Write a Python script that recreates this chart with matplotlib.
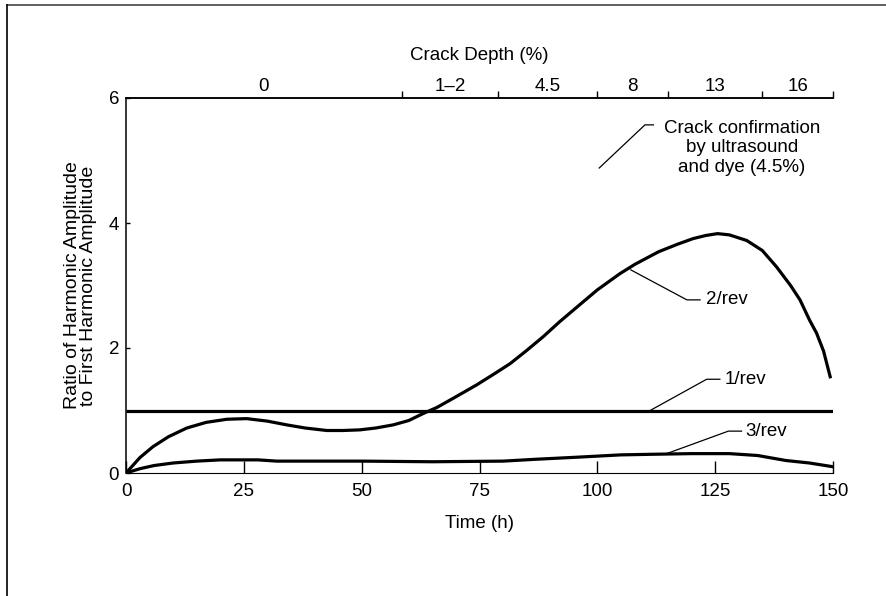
import matplotlib
matplotlib.use("Agg")
import matplotlib.pyplot as plt
from matplotlib.lines import Line2D

plt.rcParams['font.family'] = ['Liberation Sans', 'DejaVu Sans']

# ---- data ----
time_2rev = [0, 3, 5.7, 9, 12.9, 17, 21.4, 25.6, 30, 34.1, 38, 42.6, 46, 49.6, 53, 56.7,
             60, 63, 66, 70, 74.4, 78, 81.5, 85, 88.5, 92, 95.6, 100, 104.8, 108, 113,
             117, 120.3, 123, 125.5, 128, 131.7, 135, 138, 141, 143, 145, 146.5, 148, 149.4]
ratio_2rev = [0.0, 0.25, 0.42, 0.58, 0.72, 0.81, 0.86, 0.87, 0.83, 0.77, 0.72, 0.68, 0.68,
              0.69, 0.72, 0.77, 0.84, 0.95, 1.05, 1.22, 1.41, 1.58, 1.75, 1.96, 2.18, 2.42,
              2.65, 2.93, 3.19, 3.34, 3.54, 3.66, 3.75, 3.80, 3.83, 3.81, 3.72, 3.56, 3.30,
              3.00, 2.77, 2.45, 2.24, 1.95, 1.54]
time_3rev = [0, 3, 6, 10, 15, 20, 28, 32, 50, 65, 80, 87, 95, 100, 105, 112, 120, 128,
             134, 140, 145, 150]
ratio_3rev = [0.0, 0.07, 0.12, 0.16, 0.19, 0.21, 0.21, 0.19, 0.19, 0.18, 0.19, 0.22, 0.25,
              0.27, 0.29, 0.30, 0.31, 0.31, 0.28, 0.20, 0.16, 0.10]
time_1rev = [0, 150]
ratio_1rev = [1.0, 1.0]

x_ticks = [0, 25, 50, 75, 100, 125, 150]
y_ticks = [0, 2, 4, 6]
depth_bounds = [0, 58.5, 79, 100, 115, 135, 150]
depth_labels = ['0', '1\u20132', '4.5', '8', '13', '16']

FS = 13.5

fig = plt.figure(figsize=(8.86, 5.96), dpi=100)
ax = fig.add_axes([126/886, 1-473/596, (833-126)/886, (473-98)/596])

lw = 2.3
ax.plot(time_1rev, ratio_1rev, color='black', lw=lw, solid_capstyle='butt')
ax.plot(time_2rev, ratio_2rev, color='black', lw=lw, solid_joinstyle='round')
ax.plot(time_3rev, ratio_3rev, color='black', lw=lw, solid_joinstyle='round')

ax.set_xlim(0, 150)
ax.set_ylim(0, 6)
ax.spines['right'].set_visible(False)
ax.spines['left'].set_linewidth(1.1)
ax.spines['top'].set_linewidth(1.1)
ax.spines['bottom'].set_linewidth(0.8)

ax.set_xticks(x_ticks)
ax.set_yticks(y_ticks)
ax.tick_params(axis='x', direction='in', length=9, width=1.0, pad=7, labelsize=FS)
ax.tick_params(axis='y', direction='in', length=3, width=1.0, pad=5, labelsize=FS)
ax.set_xlabel('Time (h)', fontsize=FS, labelpad=11)
ax.set_ylabel('Ratio of Harmonic Amplitude\nto First Harmonic Amplitude', fontsize=14,
              labelpad=8, linespacing=0.95)

# top axis for crack depth
ax2 = ax.twiny()
ax2.set_xlim(0, 150)
for s in ['right', 'left', 'bottom']:
    ax2.spines[s].set_visible(False)
ax2.spines['top'].set_linewidth(1.1)
ax2.set_xticks(depth_bounds[1:])
ax2.set_xticklabels([])
ax2.tick_params(axis='x', which='major', direction='out', length=5, width=1.0)
centers = [(a + b) / 2 for a, b in zip(depth_bounds[:-1], depth_bounds[1:])]
ax2.set_xticks(centers, minor=True)
ax2.set_xticklabels(depth_labels, minor=True)
ax2.tick_params(axis='x', which='minor', length=0, pad=2, labelsize=FS)
ax2.set_xlabel('Crack Depth (%)', fontsize=FS, labelpad=13)

# annotations
thin = dict(color='black', lw=0.9)
ax.plot([107.1, 119.0, 121.8], [3.25, 2.77, 2.77], **thin)
ax.text(123.0, 2.77, '2/rev', fontsize=FS, va='center', ha='left')
ax.plot([111.2, 123.2, 126.0], [1.0, 1.5, 1.5], **thin)
ax.text(127.0, 1.5, '1/rev', fontsize=FS, va='center', ha='left')
ax.plot([114.7, 127.8, 130.6], [0.31, 0.67, 0.67], **thin)
ax.text(131.4, 0.67, '3/rev', fontsize=FS, va='center', ha='left')
ax.plot([100.4, 110.1, 111.9], [4.88, 5.57, 5.57], **thin)
ax.text(130.7, 5.20, 'Crack confirmation\nby ultrasound\nand dye (4.5%)', fontsize=FS,
        va='center', ha='center', linespacing=1.22)

# figure frame (top and left edges)
fig.add_artist(Line2D([7/886, 1], [1-5/596, 1-5/596], transform=fig.transFigure,
                      color='#444444', lw=1.2))
fig.add_artist(Line2D([7/886, 7/886], [0, 1-5/596], transform=fig.transFigure,
                      color='black', lw=1.2))

fig.savefig('out.png', dpi=100)
